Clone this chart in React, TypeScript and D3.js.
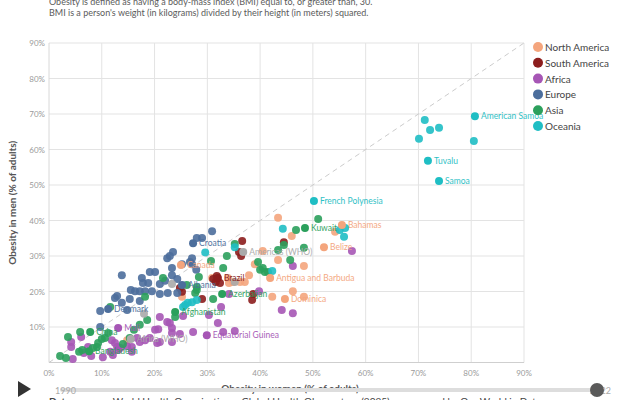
import * as d3 from "d3";

// legend / series order
const continents = ["North America", "South America", "Africa", "Europe", "Asia", "Oceania"];
const continentColors = ["#f4a57d", "#8c1d1d", "#a656b5", "#4c6e9c", "#2ba05c", "#1fbec4"];

// obesity share of women / men (% of adults), unlabeled countries
const naWomen = [43.4, 54.2, 46.0, 40.5, 43.4, 48.3, 39.0, 37.9, 37.1, 36.2, 34.1, 34.9, 30.9, 33.9, 42.3, 46.2, 48.3, 25.2, 14.8];
const naMen = [40.8, 36.8, 35.6, 31.4, 28.9, 27.2, 27.7, 24.6, 22.7, 22.7, 22.4, 22.7, 23.8, 23.8, 18.5, 20.1, 18.5, 18.5, 6.3];

const saWomen = [36.6, 36.0, 36.4, 44.5, 31.8, 31.1, 31.6, 32.4, 24.8, 29.0, 38.7, 38.5, 25.2];
const saMen = [34.2, 31.1, 30.0, 33.9, 24.4, 23.5, 22.7, 22.4, 21.0, 17.9, 19.3, 17.6, 19.9];

const afWomen = [57.4, 46.2, 39.8, 34.1, 44.1, 46.2, 32.6, 30.3, 32.0, 33.0, 35.2, 27.3, 25.4, 24.8, 21.0, 22.4, 22.9, 23.3, 23.3, 20.1, 20.7, 20.5, 21.0, 23.3, 4.2, 4.2, 4.5, 6.1, 6.6, 8.0, 7.4, 11.9, 12.5, 12.9, 13.1, 11.6, 12.1, 15.7, 15.7, 16.7, 17.2, 18.2, 19.1, 10.2, 13.5, 14.8];
const afMen = [31.4, 27.2, 20.1, 19.3, 14.8, 13.9, 15.6, 13.4, 11.1, 8.6, 8.9, 8.6, 13.1, 8.0, 12.8, 11.4, 11.1, 9.7, 8.3, 9.2, 9.4, 5.5, 5.8, 5.8, 5.8, 4.4, 1.0, 7.2, 2.7, 1.8, 4.4, 6.3, 5.5, 4.4, 3.5, 3.0, 2.1, 4.4, 3.0, 6.9, 5.8, 6.3, 6.9, 1.5, 4.1, 4.6];

const euWomen = [30.9, 28.0, 29.0, 23.5, 22.9, 22.4, 27.1, 26.7, 27.1, 27.9, 23.3, 23.3, 24.3, 25.2, 19.1, 20.1, 13.8, 17.6, 17.8, 18.8, 21.0, 15.5, 16.3, 17.2, 18.2, 19.5, 21.0, 12.9, 12.5, 15.3, 13.8, 14.8, 9.7, 17.2, 9.7, 22.0, 22.5, 24.3];
const euMen = [37.0, 35.1, 35.1, 31.1, 30.0, 29.4, 29.4, 28.3, 27.7, 26.1, 26.6, 24.6, 23.5, 27.7, 25.5, 25.5, 24.6, 23.8, 22.4, 22.4, 22.1, 20.4, 20.1, 20.1, 20.1, 20.1, 19.3, 18.7, 18.2, 17.9, 16.8, 14.8, 14.5, 17.3, 10.0, 23.0, 19.6, 19.6];

const asWomen = [51.0, 46.8, 43.4, 44.5, 48.3, 45.7, 35.2, 33.7, 30.7, 33.0, 39.6, 40.0, 40.9, 41.5, 40.5, 28.4, 26.1, 28.0, 28.0, 27.7, 31.1, 21.6, 18.2, 11.6, 23.9, 18.6, 17.2, 11.2, 5.9, 3.6, 10.6, 10.0, 9.3, 9.1, 8.3, 5.7, 2.1, 3.2, 6.3, 14.0, 16.1, 15.3];
const asMen = [40.4, 37.3, 31.7, 33.1, 32.3, 28.9, 33.4, 30.0, 28.6, 26.6, 28.3, 26.1, 25.5, 25.5, 26.6, 24.1, 21.8, 21.3, 20.4, 19.6, 17.9, 23.8, 18.5, 15.6, 12.8, 12.0, 10.6, 8.3, 8.6, 7.2, 6.9, 6.6, 5.5, 4.4, 4.1, 3.0, 1.8, 1.3, 3.5, 5.2, 9.2, 6.9];

const ocWomen = [71.2, 72.2, 73.9, 70.1, 80.5, 44.3, 55.1, 56.1, 55.9, 35.2, 29.6, 42.3, 25.8, 26.3, 27.1, 28.0, 25.4];
const ocMen = [68.3, 65.5, 66.1, 63.0, 62.4, 37.7, 37.3, 37.9, 35.4, 32.5, 31.0, 25.8, 16.2, 16.8, 17.0, 17.6, 15.6];

// WHO regions (grey)
const regionWomen = [18.0, 23.3, 35.2];
const regionMen = [13.7, 22.1, 22.7];

// labelled entities, group index into continents (-1 = WHO region)
const labelNames = ["American Samoa", "Tuvalu", "Samoa", "French Polynesia", "Kuwait", "Bahamas", "Belize", "Americas (WHO)", "Antigua and Barbuda", "Dominica", "Croatia", "Canada", "Brazil", "Albania", "Azerbaijan", "Afghanistan", "Equatorial Guinea", "Denmark", "China", "Mali", "Africa (WHO)", "Bangladesh"];
const labelWomen = [80.7, 71.8, 73.9, 50.2, 48.5, 55.5, 52.1, 36.8, 41.9, 44.7, 27.3, 25.0, 32.0, 25.2, 32.8, 23.9, 29.9, 11.2, 7.8, 13.1, 15.5, 7.6];
const labelMen = [69.4, 56.8, 51.1, 45.5, 37.9, 38.7, 32.5, 31.1, 23.8, 17.9, 33.6, 27.5, 23.8, 21.8, 19.3, 14.2, 7.7, 15.1, 8.6, 9.7, 6.6, 3.2];
const labelGroup = [5, 5, 5, 5, 4, 0, 0, -1, 0, 0, 3, 0, 1, 3, 4, 4, 2, 3, 4, 2, -1, 4];

const xTicks = [0, 10, 20, 30, 40, 50, 60, 70, 80, 90];
const yTicks = [10, 20, 30, 40, 50, 60, 70, 80, 90];

const regionColor = "#aaaaaa";
const font = "Lato, 'Noto Sans', sans-serif";

export default function App() {
  const x = d3.scaleLinear().domain([0, 90]).range([49, 524]);
  const y = d3.scaleLinear().domain([0, 90]).range([362.5, 43]);

  const series = [
    { w: naWomen, m: naMen, c: continentColors[0] },
    { w: saWomen, m: saMen, c: continentColors[1] },
    { w: afWomen, m: afMen, c: continentColors[2] },
    { w: euWomen, m: euMen, c: continentColors[3] },
    { w: asWomen, m: asMen, c: continentColors[4] },
    { w: ocWomen, m: ocMen, c: continentColors[5] },
    { w: regionWomen, m: regionMen, c: regionColor },
  ];
  const groupColor = (g: number) => (g < 0 ? regionColor : continentColors[g]);

  return (
    <svg
      width={640}
      height={400}
      style={{ position: "fixed", left: 0, top: 0, background: "#fff", fontFamily: font }}
    >
      {/* subtitle */}
      <g fill="#5b5b5b" fontSize={9}>
        <text x={49} y={5}>Obesity is defined as having a body-mass index (BMI) equal to, or greater than, 30.</text>
        <text x={49} y={16}>BMI is a person's weight (in kilograms) divided by their height (in meters) squared.</text>
      </g>

      {/* grid */}
      <g stroke="#e3e3e3" strokeWidth={1}>
        {xTicks.slice(1).map((t) => (
          <line key={"gx" + t} x1={x(t)} x2={x(t)} y1={y(90)} y2={y(0)} />
        ))}
        {yTicks.map((t) => (
          <line key={"gy" + t} x1={x(0)} x2={x(90)} y1={y(t)} y2={y(t)} />
        ))}
      </g>
      <line x1={x(0)} x2={x(0)} y1={y(90)} y2={y(0)} stroke="#d8d8d8" />
      <line x1={x(0)} x2={x(90)} y1={y(0)} y2={y(0)} stroke="#cfcfcf" />

      {/* tick labels */}
      <g fill="#9a9a9a" fontSize={8}>
        {yTicks.map((t) => (
          <text key={"ty" + t} x={x(0) - 4} y={y(t) + 3} textAnchor="end">{t}%</text>
        ))}
        {xTicks.map((t) => (
          <text key={"tx" + t} x={x(t)} y={376} textAnchor="middle">{t}%</text>
        ))}
      </g>

      {/* equality line */}
      <line x1={x(0)} y1={y(0)} x2={x(90)} y2={y(90)} stroke="#cccccc" strokeDasharray="5,4" />

      {/* points */}
      {series.map((s, i) => (
        <g key={"s" + i} fill={s.c}>
          {s.w.map((w, j) => (
            <circle key={j} cx={x(w)} cy={y(s.m[j])} r={4} opacity={0.9} />
          ))}
        </g>
      ))}
      {labelNames.map((n, i) => (
        <circle key={"lp" + i} cx={x(labelWomen[i])} cy={y(labelMen[i])} r={4} fill={groupColor(labelGroup[i])} />
      ))}
      {labelNames.map((n, i) => (
        <text
          key={"lt" + i}
          x={x(labelWomen[i]) + 6}
          y={y(labelMen[i]) + 3}
          fontSize={8.5}
          fill={groupColor(labelGroup[i])}
          opacity={0.95}
        >
          {n}
        </text>
      ))}

      {/* axis titles */}
      <text
        transform={`translate(16,${(y(0) + y(90)) / 2}) rotate(-90)`}
        textAnchor="middle"
        fontSize={10}
        fontWeight={700}
        fill="#555"
      >
        Obesity in men (% of adults)
      </text>
      <text x={290} y={392} textAnchor="middle" fontSize={10} fontWeight={700} fill="#555">
        Obesity in women (% of adults)
      </text>

      {/* legend */}
      {continents.map((c, i) => (
        <g key={"lg" + i} transform={`translate(538,${47 + i * 15.8})`}>
          <circle r={5} fill={continentColors[i]} />
          <text x={7} y={4} fontSize={10} fill="#444">{c}</text>
        </g>
      ))}

      {/* timeline */}
      <path d="M18,381 L31,389 L18,397 Z" fill="#333" />
      <line x1={62} x2={600} y1={390} y2={390} stroke="#dddddd" strokeWidth={4} strokeLinecap="round" />
      <text x={55} y={394} fontSize={9} fill="#aaa">1990</text>
      <text x={590} y={394} fontSize={9} fill="#aaa">2022</text>
      <circle cx={597} cy={390} r={7} fill="#5a5a5a" />

      {/* source */}
      <text x={49} y={405} fontSize={10} fill="#444">
        <tspan fontWeight={700}>Data source:</tspan>
        <tspan dx={8}>World Health Organization – Global Health Observatory (2025) – processed by Our World in Data</tspan>
      </text>
    </svg>
  );
}
